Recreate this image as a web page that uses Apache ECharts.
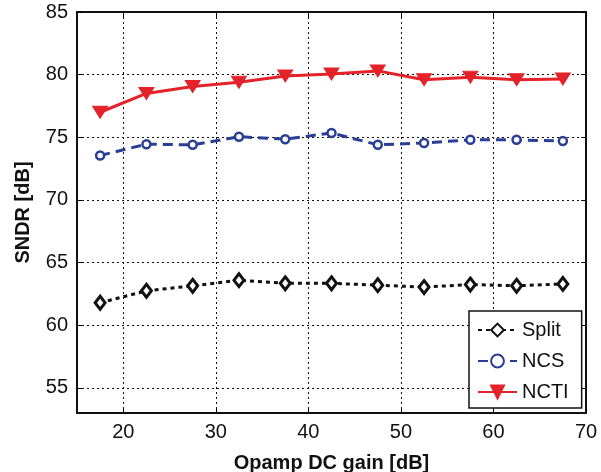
<!DOCTYPE html>
<html>
<head>
<meta charset="utf-8">
<script src="https://cdn.jsdelivr.net/npm/echarts@6/dist/echarts.min.js"></script>
<style>
html,body{margin:0;padding:0;background:#fff;}
#chart{width:601px;height:472px;}
</style>
</head>
<body>
<div id="chart"></div>
<script>
// Data
var gainDb = [17.5, 22.5, 27.5, 32.5, 37.5, 42.5, 47.5, 52.5, 57.5, 62.5, 67.5];
var splitSndr = [61.8, 62.75, 63.15, 63.6, 63.35, 63.35, 63.2, 63.05, 63.25, 63.15, 63.3];
var ncsSndr = [73.55, 74.45, 74.4, 75.05, 74.85, 75.35, 74.4, 74.55, 74.8, 74.8, 74.7];
var nctiSndr = [77.0, 78.5, 79.05, 79.4, 79.9, 80.05, 80.3, 79.6, 79.8, 79.6, 79.65];
var xTicks = [20, 30, 40, 50, 60, 70];
var yTicks = [55, 60, 65, 70, 75, 80, 85];

function pairs(xs, ys){ return xs.map(function(x,i){ return [x, ys[i]]; }); }

var FONT = 'Liberation Sans, Arial, Helvetica, sans-serif';
var chart = echarts.init(document.getElementById('chart'), null, {renderer:'canvas'});

var tickStyle = {show:true, inside:true, length:5, lineStyle:{color:'#000', width:1}};
var axisLineStyle = {show:true, onZero:false, lineStyle:{color:'#111', width:2}};

chart.setOption({
  animation:false,
  backgroundColor:'#fff',
  grid:{left:77, right:15, top:12, bottom:59, containLabel:false, outerBoundsMode:'none'},
  xAxis:[{
    type:'value', min:15, max:70, position:'bottom',
    name:'Opamp DC gain [dB]', nameLocation:'middle', nameGap:40,
    nameTextStyle:{fontFamily:FONT, fontSize:20, fontWeight:'bold', color:'#111'},
    axisLine:axisLineStyle,
    axisTick:Object.assign({customValues:xTicks}, tickStyle),
    axisLabel:{customValues:xTicks, fontFamily:FONT, fontSize:20, color:'#111', margin:9},
    splitLine:{show:true, lineStyle:{color:'#111', width:1, type:[2,3]}}
  },{
    type:'value', min:15, max:70, position:'top',
    axisLine:axisLineStyle,
    axisTick:Object.assign({customValues:xTicks}, tickStyle),
    axisLabel:{show:false, customValues:xTicks},
    splitLine:{show:false}
  }],
  yAxis:[{
    type:'value', min:53, max:85, position:'left',
    name:'SNDR [dB]', nameLocation:'middle', nameGap:44,
    nameTextStyle:{fontFamily:FONT, fontSize:20, fontWeight:'bold', color:'#111'},
    axisLine:axisLineStyle,
    axisTick:Object.assign({customValues:yTicks}, tickStyle),
    axisLabel:{customValues:yTicks, fontFamily:FONT, fontSize:20, color:'#111', margin:9},
    splitLine:{show:true, lineStyle:{color:'#111', width:1, type:[2,3]}}
  },{
    type:'value', min:53, max:85, position:'right',
    axisLine:axisLineStyle,
    axisTick:Object.assign({customValues:yTicks}, tickStyle),
    axisLabel:{show:false, customValues:yTicks},
    splitLine:{show:false}
  }],
  legend:{
    orient:'vertical', left:469, top:311,
    backgroundColor:'#fff', borderColor:'#111', borderWidth:1.5, borderRadius:0,
    padding:[9, 13, 6, 8], itemGap:11, itemWidth:39, itemHeight:16,
    textStyle:{fontFamily:FONT, fontSize:20, lineHeight:20, color:'#111'},
    data:['Split','NCS','NCTI']
  },
  series:[{
    name:'Split', type:'line', xAxisIndex:0, yAxisIndex:0,
    data:pairs(gainDb, splitSndr),
    symbol:'diamond', symbolSize:[10,13], showAllSymbol:true,
    lineStyle:{color:'#111', width:3, type:[4,4]},
    itemStyle:{color:'#fff', borderColor:'#111', borderWidth:3},
    z:3
  },{
    name:'NCS', type:'line', xAxisIndex:0, yAxisIndex:0,
    data:pairs(gainDb, ncsSndr),
    symbol:'circle', symbolSize:8, showAllSymbol:true,
    lineStyle:{color:'#2a3e95', width:3, type:[10,6]},
    itemStyle:{color:'#fff', borderColor:'#2a3e95', borderWidth:2.5},
    z:4
  },{
    name:'NCTI', type:'line', xAxisIndex:0, yAxisIndex:0,
    data:pairs(gainDb, nctiSndr),
    symbol:'triangle', symbolRotate:180, symbolSize:[15,12], showAllSymbol:true,
    lineStyle:{color:'#e3222a', width:3},
    itemStyle:{color:'#e3222a', borderColor:'#e3222a', borderWidth:1},
    z:5
  }]
});
</script>
</body>
</html>
